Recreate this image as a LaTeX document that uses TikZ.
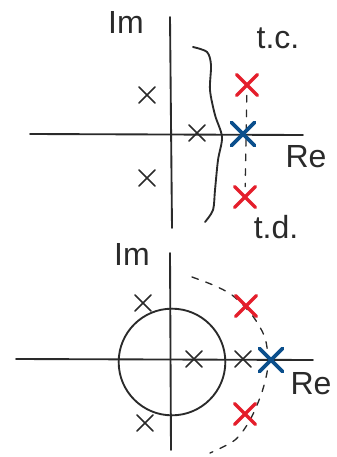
\documentclass[tikz,border=0pt]{standalone}
\usepackage{fontspec}
\setmainfont{Liberation Sans}
\usetikzlibrary{shapes.misc}
\definecolor{pred}{HTML}{E41E2B}
\definecolor{pblue}{HTML}{0B4F8C}
\definecolor{ink}{HTML}{2A2A2A}
\begin{document}
\begin{tikzpicture}[x=0.75pt,y=-0.75pt,line cap=round,line join=round,
  axisline/.style={draw=ink,line width=1.4pt},
  bx/.style={cross out,draw=ink,line width=1.2pt,minimum size=11pt,inner sep=0pt},
  rx/.style={cross out,draw=pred,line width=2.6pt,minimum size=13pt,inner sep=0pt},
  blx/.style={cross out,draw=pblue,line width=2.8pt,minimum size=14.5pt,inner sep=0pt},
  dashline/.style={draw=ink,line width=1.0pt,dash pattern=on 5pt off 6pt},
  lab/.style={text=ink,font=\fontsize{24}{28}\selectfont,inner sep=0pt}]
\useasboundingbox (0,0) rectangle (336,457);
% ---------- top diagram ----------
\coordinate (h1) at (30,134);
\coordinate (h2) at (303,135);
\coordinate (v1) at (170,17);
\coordinate (v2) at (172,228);
\draw[axisline] (h1) -- (h2);
\draw[axisline] (v1) -- (v2);
\node[lab] (im1) at (126,22) {Im};
\node[lab] (re1) at (306,157) {Re};
\node[lab] (tc) at (278,38) {t.c.};
\node[lab] (td) at (276,227) {t.d.};
\node[bx] (a1) at (147,95) {};
\node[bx] (a2) at (147,178) {};
\node[bx] (a3) at (197,133) {};
\draw[axisline] plot[smooth] coordinates {(193,47) (207,52) (211,65) (210,90) (215,115) (222,137) (218,160) (215,190) (213,210) (205,222)};
\node[rx] (r1) at (247,85) {};
\node[rx] (r2) at (245,197) {};
\draw[dashline] (r1) -- (r2);
\node[blx] (b1) at (243,134) {};
% ---------- bottom diagram ----------
\coordinate (h3) at (16,359);
\coordinate (h4) at (313,360);
\coordinate (v3) at (170,253);
\coordinate (v4) at (171,450);
\draw[axisline] (h3) -- (h4);
\draw[axisline] (v3) -- (v4);
\node[circle,draw=ink,line width=1.4pt,minimum size=80pt,inner sep=0pt] (uc) at (172,362) {};
\node[lab] (im2) at (132,254) {Im};
\node[lab] (re2) at (311,384) {Re};
\node[bx] (c1) at (143,303) {};
\node[bx] (c2) at (145,423) {};
\node[bx] (c3) at (194,359) {};
\node[bx] (c4) at (243,359) {};
\draw[dashline] plot[smooth] coordinates {(192,277) (213,285) (232,295) (252,315) (265,338) (268,365) (262,392) (250,420) (235,440) (210,453)};
\node[rx] (r3) at (246,306) {};
\node[rx] (r4) at (245,414) {};
\node[blx] (b2) at (271,360) {};
\end{tikzpicture}
\end{document}
